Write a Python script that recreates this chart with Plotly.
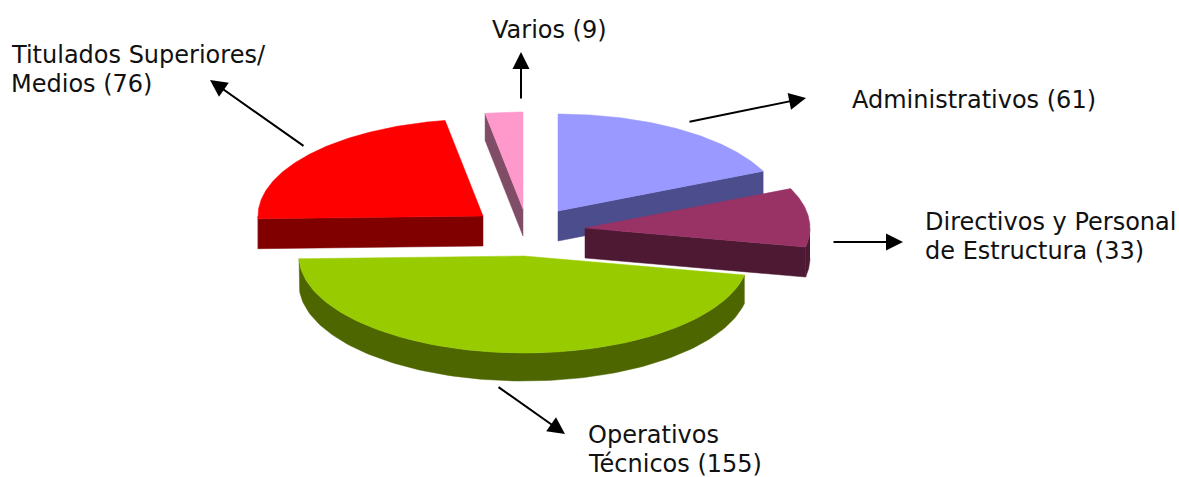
import numpy as np
import plotly.graph_objects as go

categories = ["Administrativos", "Directivos y Personal de Estructura", "Operativos Técnicos",
              "Titulados Superiores/ Medios", "Varios"]
values = [61, 33, 155, 76, 9]
top_colors = ["#9999FF", "#993366", "#99CC00", "#FF0000", "#FF99CC"]
side_colors = ["#4C4D8C", "#4D1933", "#4D6600", "#800000", "#804D66"]
apex_x = [558, 585, 524, 483, 523]
apex_y = [211, 228, 256, 216, 209]
depths = [30, 30, 28, 30, 27]
cut_face = ["end", "end", None, "start", "start"]
draw_order = [3, 4, 0, 2, 1]

RX, RY = 225, 97

labels = [
    (850, 100, "Administrativos (61)"),
    (923, 222, "Directivos y Personal"),
    (923, 251, "de Estructura (33)"),
    (586, 435, "Operativos"),
    (586, 464, "Técnicos (155)"),
    (9, 55, "Titulados Superiores/"),
    (9, 84, "Medios (76)"),
    (490, 30, "Varios (9)"),
]
arrows = [
    (688, 122, 806, 98),
    (832, 242, 903, 242),
    (497, 386, 565, 434),
    (305, 147, 210, 80),
    (521, 100, 521, 52),
]

fractions = np.array(values) / sum(values)
ends = np.cumsum(fractions) * 2 * np.pi
starts = ends - fractions * 2 * np.pi

fig = go.Figure()


def poly(x, y, color):
    fig.add_trace(go.Scatter(x=x, y=y, mode="lines", fill="toself", fillcolor=color,
                             line=dict(color=color, width=0.5), hoverinfo="skip",
                             showlegend=False))


for i in draw_order:
    t = np.linspace(starts[i], ends[i], 120)
    ax_, ay_, d = apex_x[i], apex_y[i], depths[i]
    ex = ax_ + RX * np.sin(t)
    ey = ay_ - RY * np.cos(t)
    # outer rim, only the part that faces the viewer
    front = np.cos(t) <= 0
    if front.any():
        fx, fy = ex[front], ey[front]
        poly(np.r_[fx, fx[::-1]], np.r_[fy, fy[::-1] + d], side_colors[i])
    # the cut face that is turned to the viewer
    if cut_face[i]:
        k = 0 if cut_face[i] == "start" else -1
        px, py = ex[k], ey[k]
        poly([ax_, px, px, ax_, ax_], [ay_, py, py + d, ay_ + d, ay_], side_colors[i])
    poly(np.r_[ax_, ex, ax_], np.r_[ay_, ey, ay_], top_colors[i])

annotations = [dict(x=x, y=y, text=s, showarrow=False, xanchor="left", yanchor="middle",
                    font=dict(family="DejaVu Sans", size=24, color="#111111"))
               for x, y, s in labels]
annotations += [dict(x=x1, y=y1, ax=x0, ay=y0, xref="x", yref="y", axref="x", ayref="y", text="",
                     showarrow=True, arrowhead=2, arrowsize=1.7, arrowwidth=2, arrowcolor="black")
                for x0, y0, x1, y1 in arrows]

fig.update_layout(
    width=1179, height=477, margin=dict(l=0, r=0, t=0, b=0),
    paper_bgcolor="white", plot_bgcolor="white", showlegend=False,
    xaxis=dict(range=[0, 1179], visible=False, fixedrange=True),
    yaxis=dict(range=[477, 0], visible=False, fixedrange=True),
    annotations=annotations,
)
fig.write_html("out.html", config={"displayModeBar": False},
               post_script="document.body.style.margin='0';document.documentElement.style.overflow='hidden';")
